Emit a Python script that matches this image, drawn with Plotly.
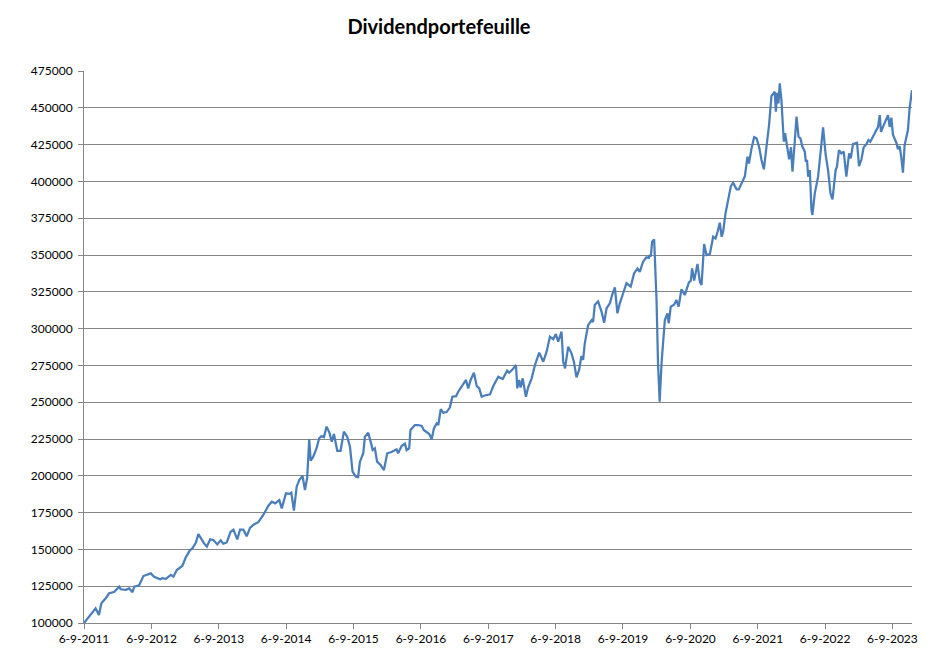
import plotly.graph_objects as go

dates = [
    "2011-09-06", "2011-11-08", "2011-11-26", "2011-12-09", "2012-01-02", "2012-01-20", "2012-02-16",
    "2012-03-15", "2012-03-23", "2012-04-20", "2012-05-08", "2012-05-26", "2012-06-04", "2012-07-01",
    "2012-07-24", "2012-08-15", "2012-09-02", "2012-09-20", "2012-10-23", "2012-11-04", "2012-11-23",
    "2012-12-20", "2013-01-03", "2013-01-21", "2013-02-20", "2013-03-11", "2013-04-03", "2013-04-16",
    "2013-05-04", "2013-05-18", "2013-06-03", "2013-06-18", "2013-07-03", "2013-07-21", "2013-08-07",
    "2013-08-29", "2013-09-16", "2013-09-30", "2013-10-19", "2013-11-09", "2013-11-24", "2013-12-15",
    "2013-12-30", "2014-01-17", "2014-02-04", "2014-02-22", "2014-03-15", "2014-04-08", "2014-05-05",
    "2014-06-01", "2014-06-20", "2014-07-08", "2014-07-31", "2014-08-13", "2014-09-05", "2014-09-23",
    "2014-10-04", "2014-10-18", "2014-11-02", "2014-11-16", "2014-12-04", "2014-12-17", "2014-12-29",
    "2015-01-09", "2015-01-17", "2015-01-31", "2015-02-18", "2015-03-04", "2015-03-17", "2015-03-30",
    "2015-04-13", "2015-04-28", "2015-05-11", "2015-05-23", "2015-06-10", "2015-06-28", "2015-07-16",
    "2015-08-03", "2015-08-18", "2015-09-01", "2015-09-19", "2015-10-01", "2015-10-11", "2015-10-29",
    "2015-11-07", "2015-11-25", "2015-12-08", "2015-12-19", "2015-12-31", "2016-01-12", "2016-01-31",
    "2016-02-18", "2016-03-07", "2016-03-30", "2016-04-27", "2016-05-05", "2016-05-24", "2016-06-11",
    "2016-06-20", "2016-07-04", "2016-07-11", "2016-08-04", "2016-08-22", "2016-09-10", "2016-09-22",
    "2016-10-07", "2016-10-21", "2016-11-03", "2016-11-15", "2016-11-30", "2016-12-09", "2016-12-22",
    "2017-01-05", "2017-01-23", "2017-02-10", "2017-02-23", "2017-03-15", "2017-03-27", "2017-04-15",
    "2017-05-08", "2017-05-20", "2017-06-02", "2017-06-20", "2017-07-05", "2017-07-19", "2017-08-01",
    "2017-08-13", "2017-09-15", "2017-10-03", "2017-10-30", "2017-11-23", "2017-12-17", "2017-12-28",
    "2018-01-16", "2018-02-03", "2018-02-10", "2018-02-20", "2018-02-28", "2018-03-11", "2018-03-29",
    "2018-04-10", "2018-04-29", "2018-05-17", "2018-06-09", "2018-07-01", "2018-07-19", "2018-08-06",
    "2018-08-24", "2018-09-07", "2018-09-20", "2018-10-08", "2018-10-17", "2018-10-27", "2018-11-13",
    "2018-12-01", "2018-12-14", "2018-12-28", "2019-01-11", "2019-01-24", "2019-02-02", "2019-02-11",
    "2019-03-01", "2019-03-20", "2019-03-28", "2019-04-06", "2019-04-24", "2019-05-13", "2019-05-27",
    "2019-06-09", "2019-06-27", "2019-07-09", "2019-07-24", "2019-08-07", "2019-08-20", "2019-09-07",
    "2019-09-25", "2019-10-18", "2019-11-05", "2019-11-24", "2019-12-06", "2019-12-24", "2020-01-11",
    "2020-01-24", "2020-01-29", "2020-02-04", "2020-02-11", "2020-02-22", "2020-03-06", "2020-03-14",
    "2020-03-23", "2020-04-02", "2020-04-20", "2020-05-04", "2020-05-11", "2020-05-22", "2020-06-09",
    "2020-06-22", "2020-07-04", "2020-07-19", "2020-08-06", "2020-08-28", "2020-09-08", "2020-09-15",
    "2020-09-26", "2020-10-14", "2020-10-27", "2020-11-05", "2020-11-19", "2020-12-02", "2020-12-20",
    "2021-01-07", "2021-01-20", "2021-01-31", "2021-02-12", "2021-02-22", "2021-03-02", "2021-03-15",
    "2021-03-29", "2021-04-13", "2021-04-25", "2021-05-14", "2021-05-26", "2021-06-10", "2021-06-28",
    "2021-07-12", "2021-07-20", "2021-08-03", "2021-08-17", "2021-08-30", "2021-09-13", "2021-09-26",
    "2021-10-09", "2021-10-23", "2021-11-06", "2021-11-19", "2021-11-28", "2021-12-07", "2021-12-13",
    "2021-12-20", "2021-12-27", "2022-01-03", "2022-01-12", "2022-01-25", "2022-02-01", "2022-02-12",
    "2022-02-23", "2022-03-05", "2022-03-13", "2022-03-26", "2022-04-04", "2022-04-15", "2022-04-25",
    "2022-05-06", "2022-05-19", "2022-05-24", "2022-05-31", "2022-06-06", "2022-06-15", "2022-06-24",
    "2022-06-29", "2022-07-12", "2022-07-21", "2022-07-30", "2022-08-26", "2022-09-09", "2022-09-22",
    "2022-10-05", "2022-10-16", "2022-11-02", "2022-11-09", "2022-11-20", "2022-12-03", "2022-12-16",
    "2022-12-30", "2023-01-14", "2023-01-23", "2023-02-04", "2023-02-26", "2023-03-09", "2023-03-22",
    "2023-04-03", "2023-04-18", "2023-04-29", "2023-05-09", "2023-05-24", "2023-06-07", "2023-06-20",
    "2023-06-29", "2023-07-06", "2023-07-17", "2023-07-31", "2023-08-13", "2023-08-22", "2023-08-31",
    "2023-09-09", "2023-09-27", "2023-10-06", "2023-10-15", "2023-10-24", "2023-11-02", "2023-11-11",
    "2023-11-24", "2023-11-29", "2023-12-08", "2023-12-21",
]

values = [
    100000, 110000, 105400, 113400, 116800, 120200, 121000,
    124700, 122900, 122500, 123500, 120900, 124700, 125600,
    131900, 133000, 133700, 131400, 129700, 130400, 130000,
    132700, 131500, 136000, 138700, 144600, 149600, 150700,
    154500, 160400, 156800, 154100, 151800, 156800, 156400,
    153400, 156200, 153900, 154700, 162000, 163400, 156800,
    163400, 163400, 158900, 164600, 167000, 168500, 173400,
    179500, 182400, 181300, 183500, 177900, 188100, 187700,
    188600, 176300, 192600, 197100, 199900, 190300, 198700,
    224800, 210300, 213000, 218700, 225500, 227000, 226300,
    233400, 229500, 223200, 228400, 217000, 217000, 230000,
    226600, 219800, 202800, 199400, 199100, 209600, 215300,
    226600, 229300, 223200, 217500, 218700, 209600, 207300,
    203900, 215300, 216200, 218000, 215300, 220200, 221900,
    217500, 218700, 231100, 234500, 234500, 233900, 231000,
    229300, 228400, 224800, 232200, 235600, 234500, 245200,
    242900, 243300, 246500, 253700, 254100, 257100, 261000,
    265100, 259400, 265100, 270000, 261000, 259400, 253700,
    254400, 255300, 261000, 267300, 265800, 271400, 270000,
    272300, 275300, 259400, 265100, 259900, 266200, 253700,
    260100, 266200, 275300, 283600, 277500, 284300, 294500,
    292700, 296300, 291100, 297900, 277500, 273000, 287700,
    283200, 277500, 266900, 271900, 281400, 278800, 290000,
    302400, 305800, 304500, 316000, 318500, 311500, 304000,
    313800, 317200, 322800, 328000, 310400, 317200, 324000,
    330800, 328500, 337500, 340900, 338600, 345400, 348400,
    348000, 350000, 349000, 359000, 360600, 319400, 276400,
    250300, 276400, 305800, 310400, 303600, 314900, 316200,
    319400, 314900, 326700, 322800, 331200, 332600, 340900,
    332600, 343900, 331800, 329600, 357500, 350000, 350600,
    362400, 361300, 365800, 371900, 362400, 365800, 378300,
    388500, 396800, 399100, 394600, 394600, 399100, 403600,
    416800, 412200, 422400, 430000, 429200, 423500, 414500,
    408200, 423500, 438300, 458000, 459300, 460900, 447300,
    460200, 453000, 466600, 455300, 427000, 432700, 423500,
    415000, 423200, 406600, 428100, 444000, 430300, 429200,
    423500, 420200, 413400, 414500, 403200, 407700, 380600,
    377200, 391900, 398700, 403200, 436700, 417900, 407700,
    391900, 387800, 407700, 410000, 421300, 419000, 420200,
    403200, 419000, 415600, 425400, 426300, 410400, 415000,
    423200, 425400, 428100, 427000, 430800, 434900, 437100,
    445000, 433700, 437000, 441700, 445000, 437000, 443300,
    431500, 426300, 421800, 424000, 416300, 405900, 424700,
    433500, 434900, 449600, 462000,
]

tick_dates = ["2011-09-06", "2012-09-06", "2013-09-06", "2014-09-06", "2015-09-06",
              "2016-09-06", "2017-09-06", "2018-09-06", "2019-09-06", "2020-09-06",
              "2021-09-06", "2022-09-06", "2023-09-06"]
tick_labels = ["6-9-2011", "6-9-2012", "6-9-2013", "6-9-2014", "6-9-2015",
               "6-9-2016", "6-9-2017", "6-9-2018", "6-9-2019", "6-9-2020",
               "6-9-2021", "6-9-2022", "6-9-2023"]
y_ticks = list(range(100000, 475001, 25000))

fig = go.Figure()
fig.add_trace(go.Scatter(
    x=dates, y=values, mode="lines",
    line=dict(color="#4A7EBB", width=2.25),
    hoverinfo="x+y", showlegend=False,
))

axis_color = "#868686"
fig.update_layout(
    width=932, height=653,
    margin=dict(l=84, r=20, t=71, b=30),
    paper_bgcolor="white", plot_bgcolor="white",
    font=dict(family="Lato, Carlito, 'Liberation Sans', sans-serif", size=12, color="#000000"),
    title=dict(text="<b>Dividendportefeuille</b>", x=0.471, xanchor="center",
               y=0.958, yanchor="middle", font=dict(size=20, color="#000000")),
    xaxis=dict(
        type="date", range=[dates[0], dates[-1]],
        tickvals=tick_dates, ticktext=tick_labels,
        showgrid=False, showline=True, linecolor=axis_color, linewidth=1,
        ticks="outside", ticklen=5, tickcolor=axis_color, zeroline=False,
        automargin=False,
    ),
    yaxis=dict(
        range=[100000, 475000], tickvals=y_ticks, tickformat="d",
        showgrid=True, gridcolor=axis_color, gridwidth=1,
        showline=True, linecolor=axis_color, linewidth=1,
        ticks="outside", ticklen=5, tickcolor=axis_color, zeroline=False,
        ticklabelstandoff=3, automargin=False,
    ),
)

fig.write_html(
    "out.html",
    config={"displayModeBar": False},
    post_script="document.body.style.margin='0';document.body.style.overflow='hidden';",
)
